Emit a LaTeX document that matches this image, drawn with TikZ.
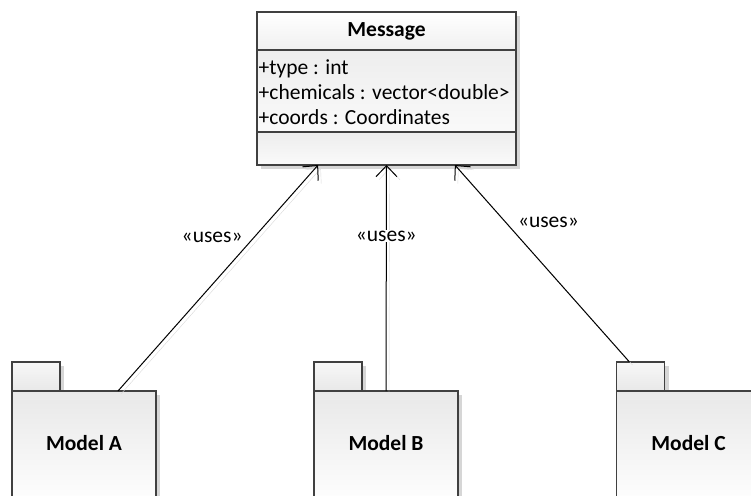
\documentclass[tikz,border=0pt]{standalone}
\usepackage{fontspec}
\setmainfont{Carlito}
\usetikzlibrary{arrows.meta,calc,shadows}

\definecolor{edge}{HTML}{404040}

\tikzset{
  txt/.style={font=\fontsize{21.5}{25}\selectfont},
  boxshadow/.style={drop shadow={shadow xshift=4pt,shadow yshift=-4pt,fill=black!16,opacity=1}},
  part/.style={draw=edge,line width=1.3pt,inner sep=0pt,outer sep=0pt,boxshadow},
  headpart/.style={part,top color=white,bottom color=black!6},
  bodypart/.style={part,top color=black!7,bottom color=black!2},
  pkgbody/.style={part,top color=black!9,bottom color=white,
    minimum width=144pt,minimum height=116pt},
  pkgtab/.style={part,top color=black!3,bottom color=black!9,
    minimum width=48pt,minimum height=29pt},
  pkgname/.style={font=\fontsize{21.5}{25}\selectfont\bfseries},
  uses/.style={draw=black,line width=1pt,
    -{Straight Barb[length=11pt,width=21pt,line width=1pt]},
    preaction={draw=black!15,transform canvas={xshift=3pt,yshift=-3pt}}},
  usestext/.style={txt,inner sep=1pt}
}

\begin{document}
\begin{tikzpicture}[x=1pt,y=-1pt]
\useasboundingbox (0,0) rectangle (751,495);
\clip (0,0) rectangle (751,495);

% class Message: name, attributes, operations
\node[headpart,minimum width=259pt,minimum height=38pt,
      font=\fontsize{21.5}{25}\selectfont\bfseries] (msghead) at (386.5,31) {Message};
\node[bodypart,minimum width=259pt,minimum height=82pt,anchor=north] (msgattr) at (msghead.south) {};
\node[txt,anchor=west,align=left,inner sep=0pt] (msgattrtext) at ([xshift=1.5pt,yshift=-1pt]msgattr.west)
  {+type : int\\+chemicals : vector<double>\\+coords : Coordinates};
\node[bodypart,minimum width=259pt,minimum height=33pt,anchor=north] (msgops) at (msgattr.south) {};

% packages: tab first, then body
\foreach \n/\x/\name in {A/84/Model A,B/386/Model B,C/688.5/Model C}{
  \node[pkgtab,anchor=south west] (tab\n) at (\x-72,391) {};
  \node[pkgbody,anchor=north,label={[pkgname,yshift=6pt]center:\name}] (pkg\n) at (\x,391) {};
}

% usage dependencies
\draw[uses] ($(pkgA.north west)!0.736!(pkgA.north east)$) -- ($(msgops.south west)!0.236!(msgops.south east)$)
  node[usestext,pos=0.68,anchor=east,xshift=-10pt] (usesA) {«uses»};
\draw[uses] (pkgB.north) -- (msgops.south)
  node[usestext,pos=0.686,fill=white] (usesB) {«uses»};
\draw[uses] ($(tabC.north west)!0.27!(tabC.north east)$) -- ($(msgops.south west)!0.764!(msgops.south east)$)
  node[usestext,pos=0.71,anchor=west,xshift=11pt] (usesC) {«uses»};
\end{tikzpicture}
\end{document}
